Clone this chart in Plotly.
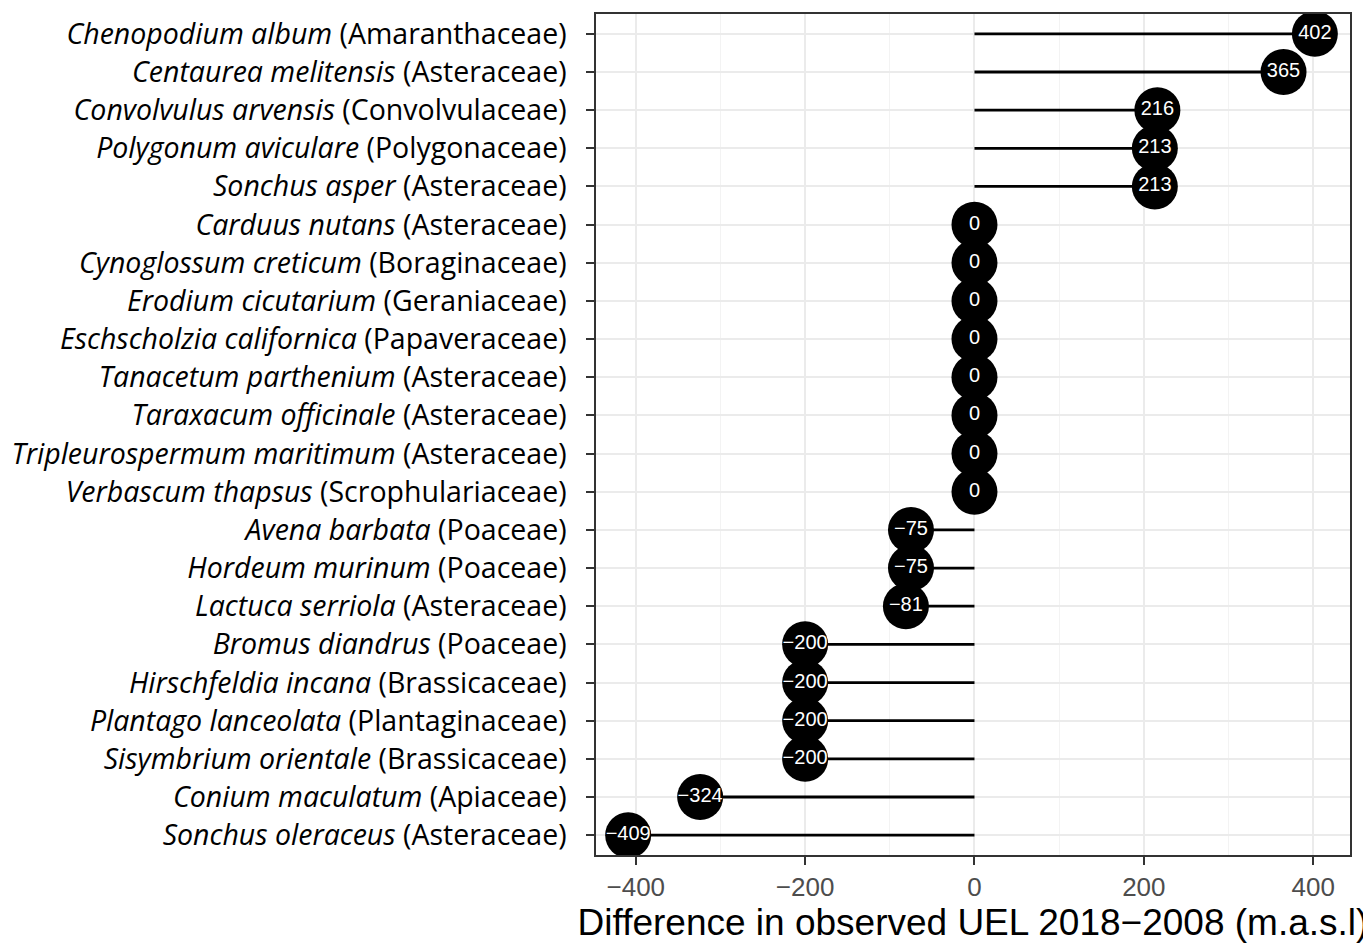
import plotly.graph_objects as go

species = ["Chenopodium album", "Centaurea melitensis", "Convolvulus arvensis", "Polygonum aviculare",
           "Sonchus asper", "Carduus nutans", "Cynoglossum creticum", "Erodium cicutarium",
           "Eschscholzia californica", "Tanacetum parthenium", "Taraxacum officinale",
           "Tripleurospermum maritimum", "Verbascum thapsus", "Avena barbata", "Hordeum murinum",
           "Lactuca serriola", "Bromus diandrus", "Hirschfeldia incana", "Plantago lanceolata",
           "Sisymbrium orientale", "Conium maculatum", "Sonchus oleraceus"]
families = ["Amaranthaceae", "Asteraceae", "Convolvulaceae", "Polygonaceae", "Asteraceae",
            "Asteraceae", "Boraginaceae", "Geraniaceae", "Papaveraceae", "Asteraceae", "Asteraceae",
            "Asteraceae", "Scrophulariaceae", "Poaceae", "Poaceae", "Asteraceae", "Poaceae",
            "Brassicaceae", "Plantaginaceae", "Brassicaceae", "Apiaceae", "Asteraceae"]
values = [402, 365, 216, 213, 213, 0, 0, 0, 0, 0, 0, 0, 0, -75, -75, -81, -200, -200, -200, -200, -324, -409]
x_ticks = [-400, -200, 0, 200, 400]

labels = [f"<i>{s}</i> ({f})" for s, f in zip(species, families)]

seg_x, seg_y = [], []
for lab, v in zip(labels, values):
    seg_x += [0, v, None]
    seg_y += [lab, lab, None]

fig = go.Figure()
fig.add_trace(go.Scatter(x=seg_x, y=seg_y, mode="lines",
                         line=dict(color="black", width=2.8), hoverinfo="skip", showlegend=False))
fig.add_trace(go.Scatter(x=values, y=labels, mode="markers+text",
                         marker=dict(color="black", size=46, line=dict(width=0)),
                         text=[str(v).replace("-", "\u2212") for v in values],
                         textposition="middle center",
                         textfont=dict(color="white", size=20, family="Liberation Sans, Arial"),
                         showlegend=False))

fig.update_layout(
    width=1371, height=943,
    margin=dict(l=585, r=29, t=4, b=96),
    paper_bgcolor="white", plot_bgcolor="white",
)
fig.update_xaxes(range=[-447, 443.5], tickvals=x_ticks,
                 ticktext=[str(t).replace("-", "\u2212") for t in x_ticks],
                 showgrid=True, gridcolor="#ebebeb", gridwidth=1.5,
                 minor=dict(tickvals=[-300, -100, 100, 300], showgrid=True, gridcolor="#f3f3f3", gridwidth=1),
                 zeroline=False, ticks="outside", ticklen=8, tickwidth=2, tickcolor="#333333",
                 tickfont=dict(family="Liberation Sans, Arial", size=26, color="#4d4d4d"),
                 title=dict(text="Difference in observed UEL 2018\u22122008 (m.a.s.l)",
                            font=dict(family="Liberation Sans, Arial", size=37, color="black"), standoff=5),
                 showline=True, linecolor="#333333", linewidth=1.5, mirror=True)
fig.update_yaxes(type="category", categoryorder="array", categoryarray=labels,
                 range=[21.52, -0.52],
                 showgrid=True, gridcolor="#ebebeb", gridwidth=1.5,
                 ticks="outside", ticklen=8, tickwidth=2, tickcolor="#333333",
                 ticklabelstandoff=14,
                 tickfont=dict(family="Open Sans", size=28.5, color="black"),
                 showline=True, linecolor="#333333", linewidth=1.5, mirror=True)

fig.write_html("out.html")
